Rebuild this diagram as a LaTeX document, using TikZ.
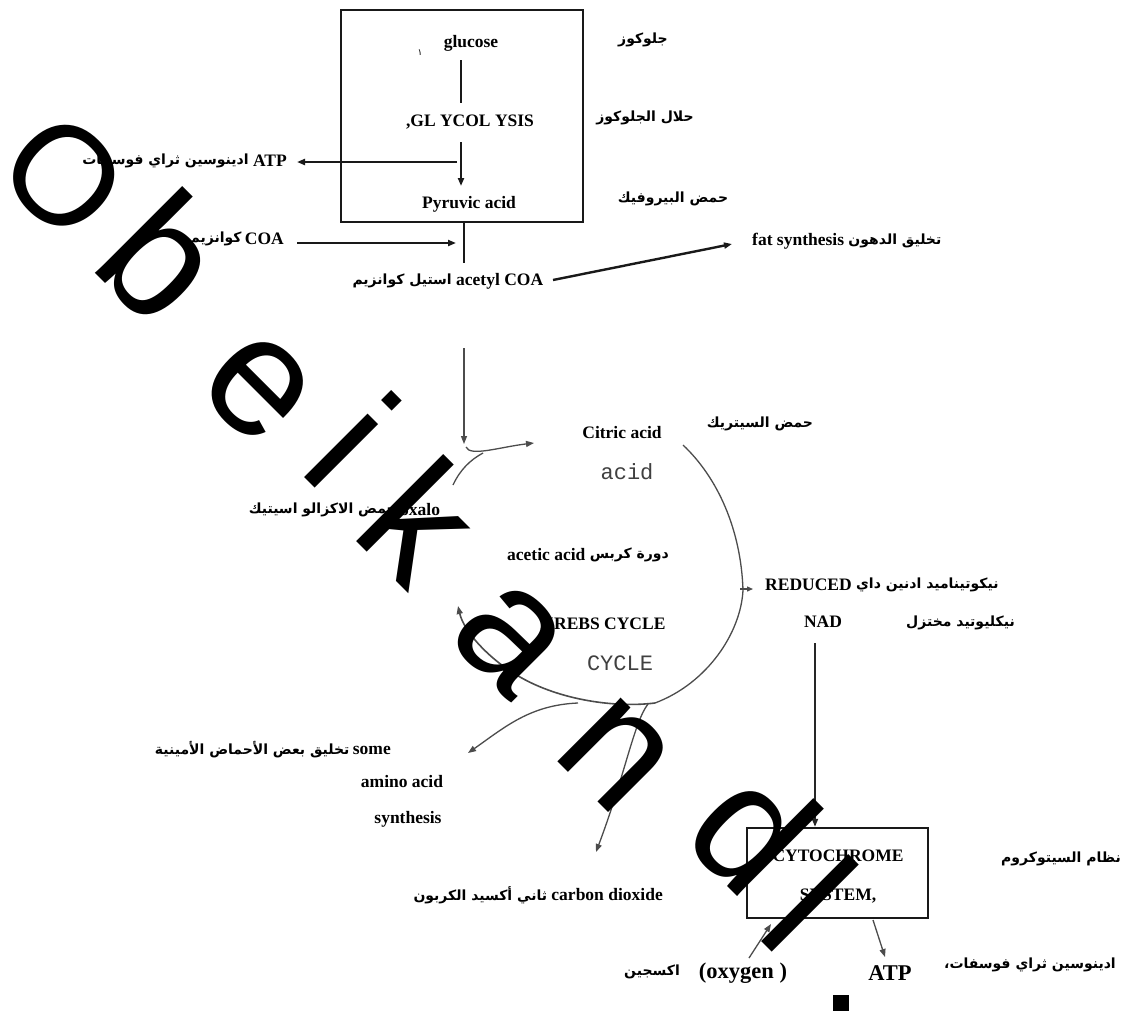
\documentclass[tikz,border=0pt]{standalone}
\usepackage{fontspec}
\setmainfont{Liberation Serif}
\newfontfamily\arabicfont[Script=Arabic]{DejaVu Sans}
\newfontfamily\wmfont{Liberation Sans}
\newfontfamily\typefont{Liberation Mono}
\TeXXeTstate=1
\usetikzlibrary{arrows.meta}
\begin{document}
\begin{tikzpicture}[x=1pt,y=-1pt,
  lbl/.style={inner sep=0pt, font=\bfseries\fontsize{17.5}{17.5}\selectfont},
  big/.style={inner sep=0pt, font=\bfseries\fontsize{22.5}{22.5}\selectfont},
  ar/.style={inner sep=0pt, font=\arabicfont\bfseries\fontsize{14}{14}\selectfont},
  mono/.style={inner sep=0pt, font=\typefont\fontsize{22}{22}\selectfont, text=black!75},
  wm/.style={inner sep=0pt, font=\wmfont\fontsize{170}{170}\selectfont, rotate=-45},
  heavy/.style={line width=2.4pt, black!90},
  light/.style={line width=1.3pt, black!70},
  tip/.style={-{Triangle[length=8pt,width=6pt]}},
  boxed/.style={draw, line width=2.4pt, black!90, inner sep=0pt},
]
\fill[white] (0,0) rectangle (1124,1012);
\useasboundingbox (0,0) rectangle (1124,1012);

% boxes
\node[boxed, minimum width=242pt, minimum height=212pt] (gbox) at (462,116) {};
\node[boxed, minimum width=181pt, minimum height=90pt] (cbox) at (837.5,873) {};

% texts
\node[lbl] (glu) at (471,43) {glucose};
\node[ar, font=\arabicfont\fontsize{9}{9}\selectfont] (mk) at (420,53) {\beginR ١\endR};
\node[lbl] (gly) at (470,122) {,GL YCOL YSIS};
\node[lbl] (pyr) at (469,204) {Pyruvic acid};
\node[lbl, anchor=east] (atp1) at (287,161) {ATP};
\node[ar, anchor=east] (atp1ar) at ([xshift=-4pt]atp1.west) {\beginR ادينوسين ثراي فوسفات\endR};
\node[lbl, anchor=east] (coa) at (284,239) {COA};
\node[ar, anchor=east] (coaar) at ([xshift=-3pt]coa.west) {\beginR كوانزيم\endR};
\node[lbl, anchor=west] (acoa) at (456,281) {acetyl COA};
\node[ar, anchor=east] (acoaar) at ([xshift=-4pt]acoa.west) {\beginR استيل كوانزيم\endR};
\node[ar] (gluar) at (643,40) {\beginR جلوكوز\endR};
\node[ar] (glyar) at (645,118) {\beginR حلال الجلوكوز\endR};
\node[ar] (pyrar) at (673,199) {\beginR حمض البيروفيك\endR};
\node[lbl, anchor=west] (fat) at (752,241) {fat synthesis};
\node[ar, anchor=west] (fatar) at ([xshift=4pt]fat.east) {\beginR تخليق الدهون\endR};
\node[lbl] (cit) at (622,433) {Citric acid};
\node[mono] (acid) at (627,472) {acid};
\node[ar] (citar) at (760,424) {\beginR حمض السيتريك\endR};
\node[lbl, anchor=west] (oxa) at (400,510) {oxalo};
\node[ar, anchor=east] (oxaar) at ([xshift=-3pt]oxa.west) {\beginR حمض الاكزالو اسيتيك\endR};
\node[lbl, anchor=west] (acet) at (507,555) {acetic acid};
\node[ar, anchor=west] (krebsar) at ([xshift=4pt]acet.east) {\beginR دورة كربس\endR};
\node[lbl] (krebs) at (603,624) {KREBS CYCLE};
\node[mono] (cyc) at (620,663) {CYCLE};
\node[lbl, anchor=west] (red) at (765,585) {REDUCED};
\node[ar, anchor=west] (redar) at ([xshift=4pt]red.east) {\beginR نيكوتيناميد ادنين داي\endR};
\node[lbl] (nad) at (823,622) {NAD};
\node[ar, anchor=east] (nadar) at (1015,623) {\beginR نيكليوتيد مختزل\endR};
\node[lbl, anchor=east] (some) at (391,750) {some};
\node[ar, anchor=east] (somear) at ([xshift=-3pt]some.west) {\beginR تخليق بعض الأحماض الأمينية\endR};
\node[lbl] (amino) at (402,782) {amino acid};
\node[lbl] (synth) at (408,819) {synthesis};
\node[lbl, anchor=east] (co2) at (663,895) {carbon dioxide};
\node[ar, anchor=east] (co2ar) at ([xshift=-4pt]co2.west) {\beginR ثاني أكسيد الكربون\endR};
\node[lbl] (cyto1) at (838,856) {CYTOCHROME};
\node[lbl] (cyto2) at (838,896) {SYSTEM,};
\node[ar, anchor=east] (cytoar) at (1121,859) {\beginR نظام السيتوكروم\endR};
\node[big] (atp2) at (890,973) {ATP};
\node[ar] (atp2ar) at (1030,965) {\beginR ادينوسين ثراي فوسفات،\endR};
\node[big] (oxy) at (743,973) {(oxygen )};
\node[ar] (oxyar) at (652,972) {\beginR اكسجين\endR};
\node[fill=black, minimum size=16pt, inner sep=0pt] (sq) at (841,1003) {};

% connectors (top)
\coordinate (g1) at (461,60); \coordinate (g2) at (461,103);
\draw[heavy] (g1) -- (g2);
\coordinate (g3) at (461,142); \coordinate (g4) at (461,186);
\draw[heavy, tip] (g3) -- (g4);
\coordinate (a1) at (457,162); \coordinate (a2) at (297,162);
\draw[heavy, tip] (a1) -- (a2);
\coordinate (v1) at (464,222); \coordinate (v2) at (464,263);
\draw[heavy] (v1) -- (v2);
\coordinate (c1) at (297,243); \coordinate (c2) at (456,243);
\draw[heavy, tip] (c1) -- (c2);
\coordinate (f1) at (553,280); \coordinate (f2) at (732,244);
\draw[heavy, tip] (f1) -- (f2);

% cycle
\coordinate (d1) at (464,348); \coordinate (d2) at (464,444);
\draw[light, tip] (d1) -- (d2);
\coordinate (e1) at (466,447); \coordinate (e2) at (534,443);
\draw[light, tip] (e1) .. controls (470,457) and (500,447) .. (e2);
\coordinate (o1) at (453,485); \coordinate (o2) at (483,453);
\draw[light] (o1) .. controls (460,470) and (470,460) .. (o2);
\coordinate (r1) at (683,445); \coordinate (r2) at (743,590); \coordinate (r3) at (655,703);
\draw[light] (r1) .. controls (718,478) and (741,530) .. (r2) .. controls (741,632) and (708,683) .. (r3);
\coordinate (r4) at (520,677); \coordinate (r5) at (458,606);
\draw[light, line width=1.6pt, tip] (r3) .. controls (615,708) and (560,700) .. (r4) .. controls (490,660) and (464,632) .. (r5);
\coordinate (s1) at (578,703); \coordinate (s2) at (468,753);
\draw[light, tip] (s1) .. controls (530,705) and (505,727) .. (s2);
\coordinate (k1) at (648,704); \coordinate (k2) at (596,852);
\draw[light, tip] (k1) .. controls (634,722) and (625,775) .. (k2);
\coordinate (n1) at (740,589); \coordinate (n2) at (753,589);
\draw[light, -{Triangle[length=6pt,width=5pt]}] (n1) -- (n2);

% lower part
\coordinate (nd1) at (815,643);
\draw[line width=1.8pt, black!85, tip] (nd1) -- (cbox.north -| nd1);
\coordinate (t1) at (873,920); \coordinate (t2) at (885,957);
\draw[light, tip] (t1) -- (t2);
\coordinate (x1) at (749,958); \coordinate (x2) at (771,924);
\draw[light, tip] (x1) -- (x2);

% watermark
\node[wm, font=\wmfont\fontsize{140}{140}\selectfont] (w1) at (64,176) {\makebox[0pt]{O}};
\node[wm] (w2) at (164,256) {b};
\node[wm] (w3) at (258,388) {e};
\node[wm] (w4) at (353,439) {i};
\node[wm] (w5) at (422,520) {k};
\node[wm] (w6) at (510,638) {a};
\node[wm] (w7) at (615,755) {n};
\node[wm] (w8) at (755,828) {d};
\node[wm] (w9) at (810,903) {l};
\end{tikzpicture}
\end{document}
